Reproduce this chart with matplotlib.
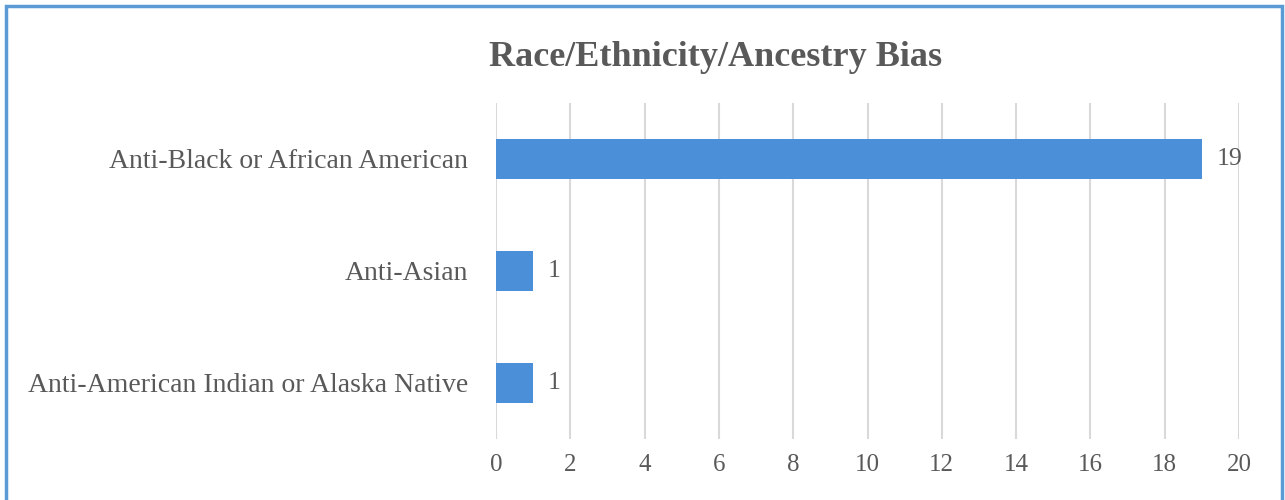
import matplotlib.pyplot as plt
from matplotlib.patches import Rectangle

# data, bottom to top
categories = ["Anti-American Indian or Alaska Native", "Anti-Asian", "Anti-Black or African American"]
counts = [1, 1, 19]
x_ticks = list(range(0, 21, 2))

bar_color = "#4A8FD8"
text_color = "#595959"
grid_color = "#D9D9D9"

plt.rcParams["font.family"] = ["Liberation Serif", "DejaVu Serif"]

fig = plt.figure(figsize=(12.85, 5), dpi=100)
ax = fig.add_axes([496 / 1285, 1 - 439 / 500, (1239 - 496) / 1285, (439 - 103) / 500])

ypos = range(len(categories))
ax.barh(ypos, counts, height=0.36, color=bar_color, zorder=3)
for y, v in zip(ypos, counts):
    ax.text(v + 0.4, y, str(v), va="center", ha="left", fontsize=18.5, color=text_color)

ax.set_xlim(0, 20)
ax.set_ylim(-0.5, len(categories) - 0.5)
ax.set_xticks(x_ticks)
ax.set_xticklabels([str(t) for t in x_ticks], fontsize=18, color=text_color)
ax.set_yticks(list(ypos))
ax.set_yticklabels(categories, fontsize=20, color=text_color)
ax.tick_params(axis="both", length=0)
ax.tick_params(axis="x", pad=11)
ax.tick_params(axis="y", pad=20)
ax.xaxis.grid(True, color=grid_color, linewidth=1.5, zorder=0)
for s in ax.spines.values():
    s.set_visible(False)

fig.text(716 / 1285, 1 - 57 / 500, "Race/Ethnicity/Ancestry Bias", ha="center", va="center",
         fontsize=26, fontweight="bold", color=text_color)

# outer chart border
fig.patches.append(Rectangle((6 / 1285, -0.02), 1276 / 1285, 1.02 - 6 / 500, transform=fig.transFigure,
                             fill=False, edgecolor="#5B9BD5", linewidth=2.5))

fig.savefig("out.png", dpi=100)
